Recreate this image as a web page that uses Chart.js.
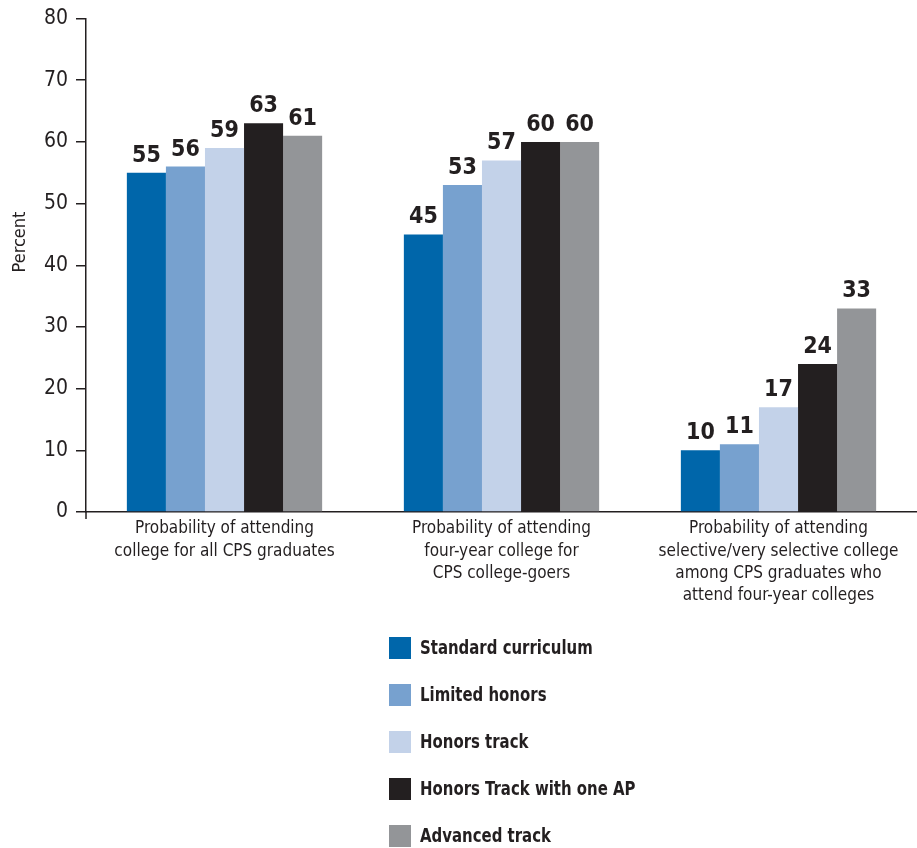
<!DOCTYPE html>
<html>
<head>
<meta charset="utf-8">
<script src="https://cdn.jsdelivr.net/npm/chart.js@4"></script>
<style>
  html, body { margin: 0; padding: 0; background: #fff; }
  #wrap { width: 917px; height: 848px; }
</style>
</head>
<body>
<div id="wrap"><canvas id="mycanvas"></canvas></div>
<script>
var FONT = '"Liberation Sans Narrow", "DejaVu Sans Condensed", "Roboto Condensed", sans-serif';

var categories = [
    ["Probability of attending", "college for all CPS graduates"],
    ["Probability of attending", "four-year college for", "CPS college-goers"],
    ["Probability of attending", "selective/very selective college", "among CPS graduates who", "attend four-year colleges"]
];
var seriesNames = ["Standard curriculum", "Limited honors", "Honors track", "Honors Track with one AP", "Advanced track"];
var standard = [55, 45, 10];
var limited = [56, 53, 11];
var honors = [59, 57, 17];
var honorsAP = [63, 60, 24];
var advanced = [61, 60, 33];
var yTicks = [0, 10, 20, 30, 40, 50, 60, 70, 80];
var yTitle = "Percent";
var barColors = ["#0066aa", "#77a1cf", "#c3d2e9", "#231f20", "#939598"];

var seriesValues = [standard, limited, honors, honorsAP, advanced];
var datasets = [];
for (var i in seriesNames) {
    datasets.push({
        label: seriesNames[i],
        data: seriesValues[i],
        backgroundColor: barColors[i],
        borderWidth: 0,
        categoryPercentage: 0.705,
        barPercentage: 1.0
    });
}

// value labels above each bar, axis title and the little axis overhang
var valueLabels = {
    id: 'valueLabels',
    afterDatasetsDraw: function(chart) {
        var ctx = chart.ctx;
        var area = chart.chartArea;
        ctx.save();
        ctx.font = 'bold 23px ' + FONT;
        ctx.fillStyle = '#231f20';
        ctx.textAlign = 'center';
        ctx.textBaseline = 'alphabetic';
        chart.data.datasets.forEach(function(ds, di) {
            chart.getDatasetMeta(di).data.forEach(function(bar, j) {
                ctx.fillText(ds.data[j], bar.x, bar.y - 11);
            });
        });
        // y axis runs a bit below the baseline
        ctx.strokeStyle = '#231f20';
        ctx.lineWidth = 1.5;
        ctx.beginPath();
        ctx.moveTo(area.left, area.bottom);
        ctx.lineTo(area.left, area.bottom + 7);
        ctx.stroke();
        // rotated y title
        ctx.translate(20, 242);
        ctx.rotate(-Math.PI / 2);
        ctx.font = '18px ' + FONT;
        ctx.textBaseline = 'middle';
        ctx.fillText(yTitle, 0, 0);
        ctx.restore();
    }
};

// vertical legend under the axis labels
var stackedLegend = {
    id: 'stackedLegend',
    afterDraw: function(chart) {
        var ctx = chart.ctx;
        chart.data.datasets.forEach(function(ds, i) {
            var cy = 648 + i * 47;
            ctx.save();
            ctx.fillStyle = ds.backgroundColor;
            ctx.fillRect(389, cy - 11, 22, 22);
            ctx.fillStyle = '#231f20';
            ctx.font = 'bold 20px ' + FONT;
            ctx.textBaseline = 'middle';
            ctx.textAlign = 'left';
            ctx.translate(420, cy + 1);
            ctx.scale(0.83, 1);
            ctx.fillText(ds.label, 0, 0);
            ctx.restore();
        });
    }
};

var ctx = document.getElementById('mycanvas');
var barGraph = new Chart(ctx, {
    type: 'bar',
    data: { labels: categories, datasets: datasets },
    plugins: [valueLabels, stackedLegend],
    options: {
        responsive: true,
        maintainAspectRatio: false,
        animation: false,
        layout: { padding: { top: 18, right: 0, bottom: 0, left: 0 } },
        plugins: {
            legend: { display: false },
            tooltip: { enabled: false }
        },
        scales: {
            x: {
                grid: { display: false, drawTicks: false },
                border: { display: true, color: '#231f20', width: 1.5 },
                ticks: {
                    color: '#231f20',
                    font: { family: FONT, size: 17, lineHeight: 1.3 },
                    padding: 6,
                    maxRotation: 0,
                    autoSkip: false
                },
                afterFit: function(scale) { scale.height = 336; }
            },
            y: {
                min: 0,
                max: 80,
                afterBuildTicks: function(scale) {
                    scale.ticks = yTicks.map(function(v) { return { value: v }; });
                },
                grid: { drawOnChartArea: false, drawTicks: true, tickLength: 10, color: '#231f20', lineWidth: 1.5 },
                border: { display: true, color: '#231f20', width: 1.5 },
                ticks: {
                    color: '#231f20',
                    font: { family: FONT, size: 21, lineHeight: 1.0 },
                    padding: 8
                },
                afterFit: function(scale) { scale.width = 86; }
            }
        }
    }
});
</script>
</body>
</html>
